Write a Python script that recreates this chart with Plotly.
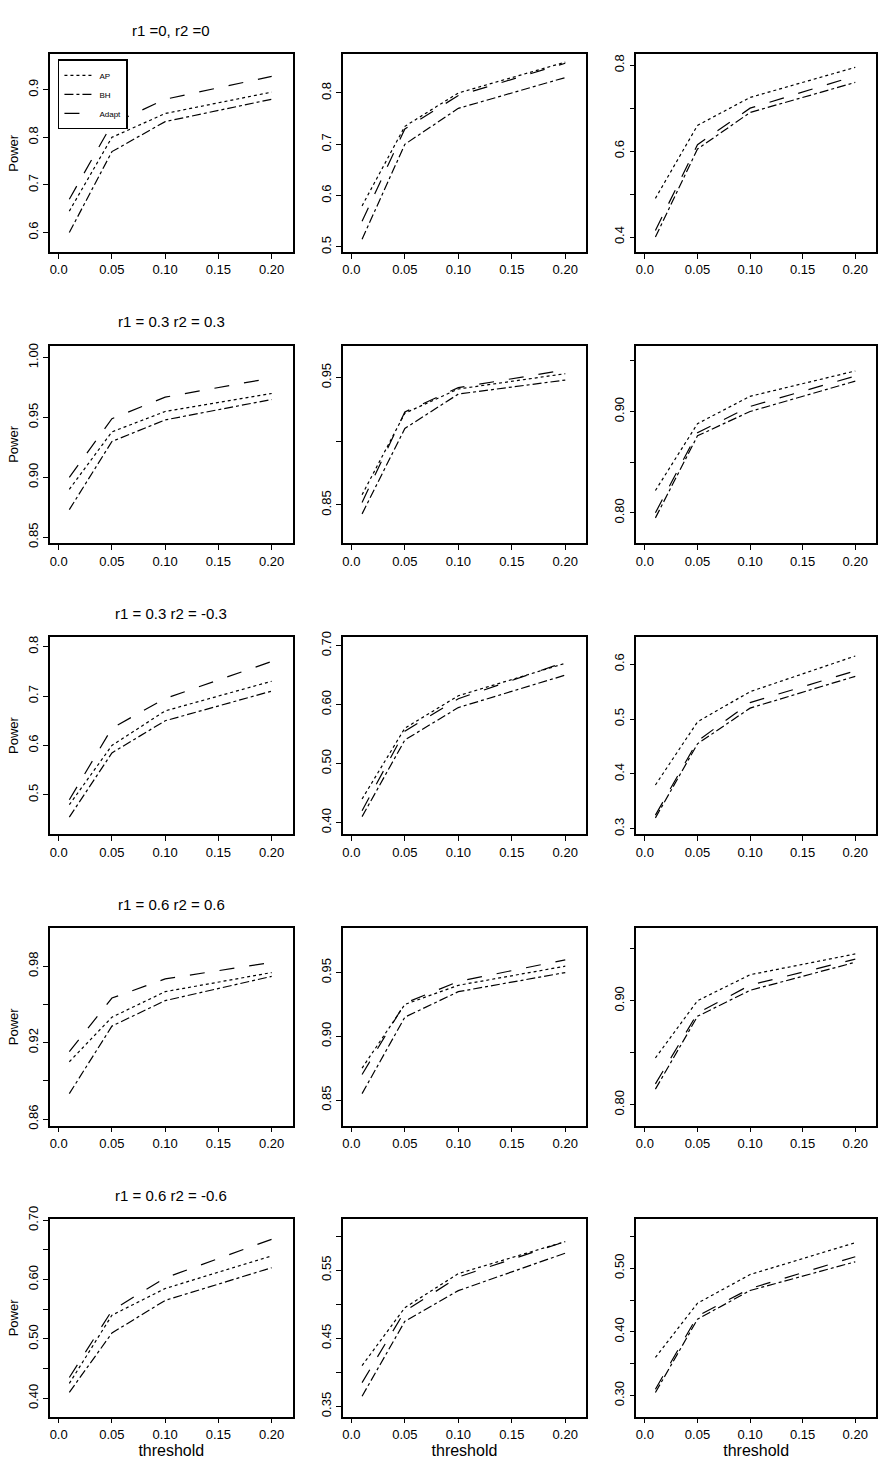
import plotly.graph_objects as go

threshold = [0.01, 0.05, 0.10, 0.20]
row_titles = ["r1 =0, r2 =0", "r1 = 0.3 r2 = 0.3", "r1 = 0.3 r2 = -0.3",
              "r1 = 0.6 r2 = 0.6", "r1 = 0.6 r2 = -0.6"]

# power values per panel (row, col): AP, BH, Adapt
ap = [
    [[0.645, 0.800, 0.850, 0.895], [0.580, 0.735, 0.800, 0.860], [0.490, 0.660, 0.725, 0.795]],
    [[0.890, 0.938, 0.955, 0.970], [0.858, 0.922, 0.941, 0.953], [0.822, 0.888, 0.915, 0.940]],
    [[0.480, 0.600, 0.670, 0.730], [0.440, 0.560, 0.615, 0.670], [0.380, 0.495, 0.550, 0.615]],
    [[0.905, 0.940, 0.960, 0.975], [0.875, 0.925, 0.940, 0.955], [0.845, 0.900, 0.925, 0.945]],
    [[0.425, 0.540, 0.585, 0.640], [0.410, 0.495, 0.545, 0.592], [0.360, 0.445, 0.490, 0.540]],
]
bh = [
    [[0.600, 0.770, 0.833, 0.880], [0.515, 0.700, 0.770, 0.830], [0.400, 0.605, 0.690, 0.760]],
    [[0.873, 0.930, 0.948, 0.965], [0.843, 0.910, 0.937, 0.948], [0.795, 0.876, 0.900, 0.930]],
    [[0.455, 0.585, 0.650, 0.710], [0.410, 0.540, 0.595, 0.650], [0.320, 0.455, 0.520, 0.578]],
    [[0.880, 0.933, 0.953, 0.972], [0.855, 0.915, 0.935, 0.950], [0.815, 0.885, 0.910, 0.937]],
    [[0.410, 0.510, 0.565, 0.620], [0.365, 0.475, 0.520, 0.575], [0.305, 0.420, 0.465, 0.510]],
]
adapt = [
    [[0.670, 0.828, 0.880, 0.928], [0.550, 0.730, 0.795, 0.858], [0.415, 0.615, 0.700, 0.775]],
    [[0.900, 0.949, 0.967, 0.983], [0.852, 0.923, 0.942, 0.956], [0.800, 0.879, 0.905, 0.935]],
    [[0.490, 0.635, 0.695, 0.770], [0.420, 0.555, 0.610, 0.672], [0.325, 0.460, 0.530, 0.588]],
    [[0.913, 0.955, 0.970, 0.983], [0.870, 0.926, 0.943, 0.960], [0.820, 0.888, 0.915, 0.940]],
    [[0.435, 0.548, 0.603, 0.668], [0.385, 0.490, 0.540, 0.592], [0.310, 0.425, 0.468, 0.518]],
]

# y ranges and ticks (ticks, labels shown)
y_ranges = [
    [[0.559, 0.974], [0.49, 0.875], [0.365, 0.825]],
    [[0.845, 1.01], [0.82, 0.975], [0.77, 0.965]],
    [[0.42, 0.82], [0.38, 0.715], [0.29, 0.65]],
    [[0.855, 1.01], [0.83, 0.985], [0.78, 0.97]],
    [[0.369, 0.702], [0.335, 0.625], [0.267, 0.577]],
]
y_ticks = [
    [[0.6, 0.7, 0.8, 0.9], [0.5, 0.6, 0.7, 0.8], [0.4, 0.5, 0.6, 0.7, 0.8]],
    [[0.85, 0.90, 0.95, 1.00], [0.85, 0.90, 0.95], [0.80, 0.85, 0.90, 0.95]],
    [[0.5, 0.6, 0.7, 0.8], [0.40, 0.50, 0.60, 0.70], [0.3, 0.4, 0.5, 0.6]],
    [[0.86, 0.89, 0.92, 0.95, 0.98], [0.85, 0.90, 0.95], [0.80, 0.85, 0.90, 0.95]],
    [[0.40, 0.45, 0.50, 0.55, 0.60, 0.65, 0.70], [0.35, 0.40, 0.45, 0.50, 0.55, 0.60],
     [0.30, 0.35, 0.40, 0.45, 0.50, 0.55]],
]
y_labels = [
    [["0.6", "0.7", "0.8", "0.9"], ["0.5", "0.6", "0.7", "0.8"], ["0.4", "", "0.6", "", "0.8"]],
    [["0.85", "0.90", "0.95", "1.00"], ["0.85", "", "0.95"], ["0.80", "", "0.90", ""]],
    [["0.5", "0.6", "0.7", "0.8"], ["0.40", "0.50", "0.60", "0.70"], ["0.3", "0.4", "0.5", "0.6"]],
    [["0.86", "", "0.92", "", "0.98"], ["0.85", "0.90", "0.95"], ["0.80", "", "0.90", ""]],
    [["0.40", "", "0.50", "", "0.60", "", "0.70"], ["0.35", "", "0.45", "", "0.55", ""],
     ["0.30", "", "0.40", "", "0.50", ""]],
]
x_ticks = [0.0, 0.05, 0.10, 0.15, 0.20]
x_labels = ["0.0", "0.05", "0.10", "0.15", "0.20"]

W, H = 878, 1475
col_px = [(50, 293), (343, 587), (637, 877)]
row_top = [42 + r * 294.75 for r in range(5)]
box_h = 200

fig = go.Figure()
font = "Liberation Sans"
styles = [("AP", "dot"), ("BH", "dashdot"), ("Adapt", "longdash")]

for r in range(5):
    for c in range(3):
        k = r * 3 + c + 1
        xa = "x" if k == 1 else f"x{k}"
        ya = "y" if k == 1 else f"y{k}"
        for (name, dash), data in zip(styles, [ap, bh, adapt]):
            fig.add_trace(go.Scatter(
                x=threshold, y=data[r][c], mode="lines", name=name,
                line=dict(color="black", width=1.2, dash=dash),
                xaxis=xa, yaxis=ya, showlegend=(k == 1)
            ))
        x0, x1 = col_px[c]
        top = row_top[r]
        xdom = [x0 / W, x1 / W]
        ydom = [1 - (top + box_h) / H, 1 - top / H]
        common = dict(showgrid=False, zeroline=False, showline=True, mirror=True,
                      linecolor="black", linewidth=1.5, ticks="outside", ticklen=5,
                      tickcolor="black", tickfont=dict(family=font, size=13, color="black"))
        fig.layout[f"xaxis{'' if k == 1 else k}"] = dict(
            domain=xdom, anchor=ya, range=[-0.0082, 0.2197],
            tickvals=x_ticks, ticktext=x_labels,
            title=dict(text="threshold" if r == 4 else "", standoff=2,
                       font=dict(family=font, size=16, color="black")),
            **common)
        fig.layout[f"yaxis{'' if k == 1 else k}"] = dict(
            domain=ydom, anchor=xa, range=y_ranges[r][c],
            tickvals=y_ticks[r][c], ticktext=y_labels[r][c], tickangle=-90,
            title=dict(text="Power" if c == 0 else "", standoff=4,
                       font=dict(family=font, size=13, color="black")),
            **common)
    fig.add_annotation(
        x=(col_px[0][0] + col_px[0][1]) / 2 / W, y=1 - (row_top[r] - 24) / H,
        xref="paper", yref="paper", text=row_titles[r], showarrow=False,
        xanchor="center", yanchor="middle",
        font=dict(family=font, size=15, color="black")
    )

fig.update_layout(
    width=W, height=H, margin=dict(l=0, r=0, t=0, b=0),
    plot_bgcolor="white", paper_bgcolor="white",
    legend=dict(x=58 / W, y=1 - 47 / H, xanchor="left", yanchor="top",
                bgcolor="white", bordercolor="black", borderwidth=1.5,
                font=dict(family=font, size=8, color="black"),
                tracegroupgap=0, itemwidth=30)
)

fig.write_html("out.html", config={"displayModeBar": False},
               post_script="document.body.style.margin='0';document.body.style.overflow='hidden';")
